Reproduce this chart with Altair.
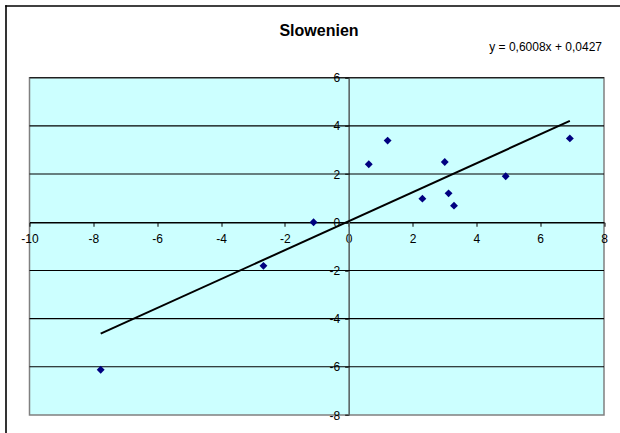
import altair as alt
import pandas as pd

# Observations (x, y) for Slovenia
x_vals = [-7.77, -2.67, -1.10, 0.63, 1.22, 3.01, 2.31, 3.13, 3.30, 4.92, 6.93]
y_vals = [-6.12, -1.81, 0.00, 2.41, 3.39, 2.50, 0.98, 1.20, 0.69, 1.91, 3.48]

# Linear trend stated in the label
slope = 0.6008
intercept = 0.0427

title_text = "Slowenien"
equation_text = "y = 0,6008x + 0,0427"

x_domain = [-10, 8]
y_domain = [-8, 6]
x_ticks = [-10, -8, -6, -4, -2, 0, 2, 4, 6, 8]
y_ticks = [-8, -6, -4, -2, 0, 2, 4, 6]
grid_levels = [-6, -4, -2, 2, 4, 6]

W, H = 574.5, 337.3
PAD = {"left": 29.5, "top": 77.7, "right": 16, "bottom": 18}
FONT = "Liberation Sans"

points = pd.DataFrame({"x": x_vals, "y": y_vals})
x_lo, x_hi = min(x_vals), max(x_vals)
trend = pd.DataFrame({
    "x": [x_lo, x_hi],
    "y": [slope * x_lo + intercept, slope * x_hi + intercept],
})
grid = pd.DataFrame({"g": grid_levels})

# axes cross at the origin
x_axis_offset = -H * (0 - y_domain[0]) / (y_domain[1] - y_domain[0])
y_axis_offset = -W * (0 - x_domain[0]) / (x_domain[1] - x_domain[0])

x_scale = alt.Scale(domain=x_domain, nice=False, zero=False)
y_scale = alt.Scale(domain=y_domain, nice=False, zero=False)

# plain hyphen for negative labels
hyphen_labels = "replace(datum.label, '\u2212', '-')"

x_axis = alt.Axis(
    values=x_ticks, title=None, grid=False, offset=x_axis_offset,
    domainColor="#000000", domainWidth=1.3, tickColor="#000000", tickSize=4,
    labelPadding=7, labelFlush=False, labelOverlap=False,
    labelExpr=hyphen_labels,
)
y_axis = alt.Axis(
    values=y_ticks, title=None, grid=False, offset=y_axis_offset,
    domainColor="#5c6666", domainWidth=1.6, tickColor="#000000", tickSize=4,
    labelPadding=5, labelFlush=False, labelOverlap=False,
    labelExpr=hyphen_labels,
)


def X(field):
    return alt.X(field, type="quantitative", scale=x_scale, axis=x_axis)


def Y(field):
    return alt.Y(field, type="quantitative", scale=y_scale, axis=y_axis)


gridlines = alt.Chart(grid).mark_rule(color="#000000", strokeWidth=1.1).encode(
    y=Y("g")
)

trend_line = alt.Chart(trend).mark_line(color="#000000", strokeWidth=2).encode(
    x=X("x"), y=Y("y")
)

scatter = alt.Chart(points).mark_point(
    shape="diamond", filled=True, color="#000080", size=62, opacity=1
).encode(x=X("x"), y=Y("y"))

title_mark = alt.Chart(alt.Data(values=[{"k": "title"}])).mark_text(
    text=title_text, font=FONT, fontSize=16, fontWeight="bold",
    align="center", baseline="alphabetic", color="#000000",
).encode(x=alt.value(289.5), y=alt.value(-42))

equation_mark = alt.Chart(alt.Data(values=[{"k": "eq"}])).mark_text(
    text=equation_text, font=FONT, fontSize=12,
    align="right", baseline="alphabetic", color="#000000",
).encode(x=alt.value(572.5), y=alt.value(-27))

# outer chart-area border (top and left edges) as thin filled bars
edge_x = 6 - PAD["left"]
edge_y = 6 - PAD["top"]
frame_top = alt.Chart(alt.Data(values=[{"k": "top"}])).mark_rect(
    color="#000000", strokeWidth=0
).encode(
    x=alt.value(edge_x - 0.8), x2=alt.value(W + PAD["right"]),
    y=alt.value(edge_y - 0.8), y2=alt.value(edge_y + 0.8),
)
frame_left = alt.Chart(alt.Data(values=[{"k": "left"}])).mark_rect(
    color="#000000", strokeWidth=0
).encode(
    x=alt.value(edge_x - 0.8), x2=alt.value(edge_x + 0.8),
    y=alt.value(edge_y - 0.8), y2=alt.value(H + PAD["bottom"]),
)

chart = alt.layer(
    gridlines, trend_line, scatter, title_mark, equation_mark, frame_top, frame_left
).properties(
    width=W, height=H,
    autosize=alt.AutoSizeParams(type="none"),
    padding=PAD,
    background="#ffffff",
).configure_view(
    fill="#ccffff", stroke="#808080", strokeWidth=1.5,
).configure_axis(
    labelFont=FONT, labelFontSize=12, labelColor="#000000",
)

chart.save("out.html", embed_options={"renderer": "svg", "actions": False})
